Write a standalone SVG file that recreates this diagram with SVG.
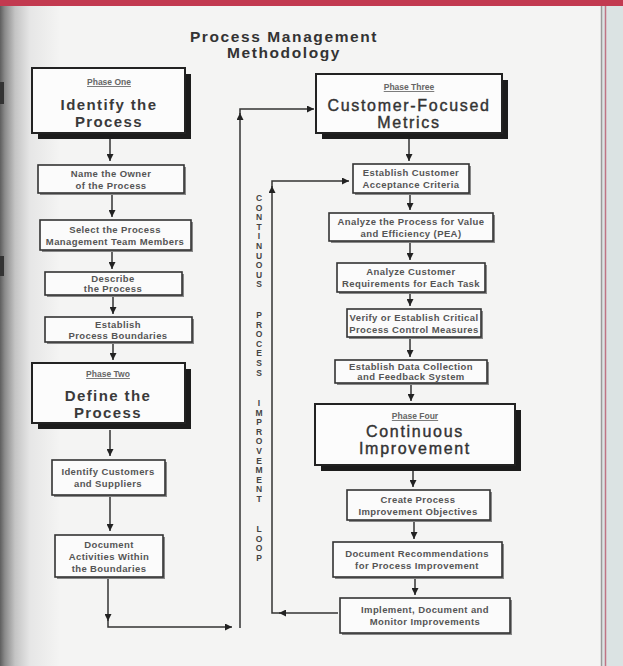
<svg xmlns="http://www.w3.org/2000/svg" width="623" height="666" viewBox="0 0 623 666">
<defs>
<linearGradient id="leftShade" gradientUnits="userSpaceOnUse" x1="0" y1="0" x2="60" y2="0">
<stop offset="0" stop-color="#5e5e5e"/>
<stop offset="0.08" stop-color="#8a8a8a"/>
<stop offset="0.25" stop-color="#c4c4c4"/>
<stop offset="0.5" stop-color="#e6e6e6"/>
<stop offset="1" stop-color="#f4f4f3"/>
</linearGradient>
<marker id="ah" viewBox="0 0 10 10" refX="10" refY="5" markerWidth="7" markerHeight="7" markerUnits="userSpaceOnUse" orient="auto">
<path d="M0,0 L10,5 L0,10 z" fill="#222"/>
</marker>
<style>
.t{font-family:"Liberation Sans",Arial,sans-serif;text-anchor:middle}
.title{font-size:15.5px;font-weight:bold;fill:#333;letter-spacing:1.6px}
.ph{font-size:8.5px;fill:#666;text-decoration:underline;font-weight:bold}
.big{font-size:15px;font-weight:bold;fill:#3a3a3a;letter-spacing:1.4px}
.big2{font-size:16px;fill:#333;letter-spacing:1.7px;stroke:#333;stroke-width:0.4}
.sm{font-size:9.5px;font-weight:bold;fill:#555;letter-spacing:0.4px}
.vt{font-size:8.5px;font-weight:bold;fill:#444}
.pbox{fill:#fcfcfc;stroke:#222;stroke-width:2}
.psh{fill:#1c1c1c}
.sbox{fill:#fbfbfb;stroke:#333;stroke-width:1.6}
.ssh{fill:#888}
.ca{fill:none;stroke:#333;stroke-width:1.5;marker-end:url(#ah)}
</style>
</defs>

<!-- page background -->
<rect x="0" y="0" width="623" height="666" fill="#f4f4f3"/>
<rect x="0" y="0" width="60" height="666" fill="url(#leftShade)"/>
<rect x="0" y="82" width="4" height="22" fill="#333"/>
<rect x="0" y="256" width="4" height="20" fill="#333"/>
<rect x="601" y="0" width="22" height="666" fill="#dbe3e3"/>
<line x1="601.5" y1="0" x2="601.5" y2="666" stroke="#9a9a9a" stroke-width="1.5"/>
<line x1="605.5" y1="0" x2="605.5" y2="666" stroke="#c07585" stroke-width="1.5"/>
<rect x="0" y="0" width="623" height="6" fill="#c23a50"/>

<!-- title -->
<g id="title">
<text class="t title" x="284" y="42">Process Management</text>
<text class="t title" x="284" y="58">Methodology</text>
</g>

<!-- connectors -->
<g id="connectors">
<path class="ca" d="M110,139 V161"/>
<path class="ca" d="M112,193 V217"/>
<path class="ca" d="M112,250 V269"/>
<path class="ca" d="M113,295 V314"/>
<path class="ca" d="M113,342 V360"/>
<path class="ca" d="M110,430 V456"/>
<path class="ca" d="M110,495 V531"/>
<path class="ca" d="M108,577 V621"/>
<path class="ca" d="M108,619 V627 H232"/>
<path class="ca" d="M240,628 V113"/>
<path class="ca" d="M240,115 V109 H314"/>
<path class="ca" d="M338,613 H279"/>
<path class="ca" d="M281,613 H272 V186"/>
<path class="ca" d="M272,188 V181 H349"/>
<path class="ca" d="M409,138 V161"/>
<path class="ca" d="M410,194 V210"/>
<path class="ca" d="M410,241 V260"/>
<path class="ca" d="M410,292 V306"/>
<path class="ca" d="M410,337 V357"/>
<path class="ca" d="M411,383 V401"/>
<path class="ca" d="M413,470 V487"/>
<path class="ca" d="M414,520 V539"/>
<path class="ca" d="M415,577 V595"/>
</g>

<!-- loop label -->
<g id="loop-label">
<text class="t vt" x="259 259 259 259 259 259 259 259 259 259" y="201 210.6 220.2 229.8 239.4 249 258.6 268.2 277.8 287.4">CONTINUOUS</text>
<text class="t vt" x="259 259 259 259 259 259 259" y="318 327.6 337.2 346.8 356.4 366 375.6">PROCESS</text>
<text class="t vt" x="259 259 259 259 259 259 259 259 259 259 259" y="406 415.6 425.2 434.8 444.4 454 463.6 473.2 482.8 492.4 502">IMPROVEMENT</text>
<text class="t vt" x="259 259 259 259" y="532 541.6 551.2 560.8">LOOP</text>
</g>

<!-- left column -->
<g id="phase-one">
<rect class="psh" x="38" y="74" width="153" height="65"/>
<rect class="pbox" x="32" y="68" width="153" height="65"/>
<text class="t ph" x="109" y="85">Phase One</text>
<text class="t big" x="109" y="110">Identify the</text>
<text class="t big" x="109" y="127">Process</text>
</g>
<g id="name-owner">
<rect class="ssh" x="40" y="167" width="146" height="28"/>
<rect class="sbox" x="38" y="165" width="146" height="28"/>
<text class="t sm" x="111" y="177">Name the Owner</text>
<text class="t sm" x="111" y="189">of the Process</text>
</g>
<g id="select-team">
<rect class="ssh" x="42" y="222" width="151" height="30"/>
<rect class="sbox" x="40" y="220" width="151" height="30"/>
<text class="t sm" x="115" y="233">Select the Process</text>
<text class="t sm" x="115" y="245">Management Team Members</text>
</g>
<g id="describe">
<rect class="ssh" x="47" y="274" width="137" height="23"/>
<rect class="sbox" x="45" y="272" width="137" height="23"/>
<text class="t sm" x="113" y="282">Describe</text>
<text class="t sm" x="113" y="292">the Process</text>
</g>
<g id="boundaries">
<rect class="ssh" x="47" y="319" width="147" height="25"/>
<rect class="sbox" x="45" y="317" width="147" height="25"/>
<text class="t sm" x="118" y="328">Establish</text>
<text class="t sm" x="118" y="339">Process Boundaries</text>
</g>
<g id="phase-two">
<rect class="psh" x="38" y="369" width="153" height="60"/>
<rect class="pbox" x="32" y="363" width="153" height="60"/>
<text class="t ph" x="108" y="377">Phase Two</text>
<text class="t big" x="108" y="401">Define the</text>
<text class="t big" x="108" y="418">Process</text>
</g>
<g id="customers">
<rect class="ssh" x="54" y="462" width="113" height="35"/>
<rect class="sbox" x="52" y="460" width="113" height="35"/>
<text class="t sm" x="108" y="475">Identify Customers</text>
<text class="t sm" x="108" y="487">and Suppliers</text>
</g>
<g id="document-activities">
<rect class="ssh" x="57" y="537" width="108" height="42"/>
<rect class="sbox" x="55" y="535" width="108" height="42"/>
<text class="t sm" x="109" y="548">Document</text>
<text class="t sm" x="109" y="560">Activities Within</text>
<text class="t sm" x="109" y="572">the Boundaries</text>
</g>

<!-- right column -->
<g id="phase-three">
<rect class="psh" x="322" y="80" width="186" height="59"/>
<rect class="pbox" x="316" y="74" width="186" height="59"/>
<text class="t ph" x="409" y="90">Phase Three</text>
<text class="t big2" x="409" y="111">Customer-Focused</text>
<text class="t big2" x="409" y="128">Metrics</text>
</g>
<g id="acceptance">
<rect class="ssh" x="355" y="166" width="116" height="29"/>
<rect class="sbox" x="353" y="164" width="116" height="29"/>
<text class="t sm" x="411" y="176">Establish Customer</text>
<text class="t sm" x="411" y="188">Acceptance Criteria</text>
</g>
<g id="analyze-value">
<rect class="ssh" x="331" y="215" width="164" height="28"/>
<rect class="sbox" x="329" y="213" width="164" height="28"/>
<text class="t sm" x="411" y="225">Analyze the Process for Value</text>
<text class="t sm" x="411" y="237">and Efficiency (PEA)</text>
</g>
<g id="analyze-requirements">
<rect class="ssh" x="339" y="265" width="148" height="29"/>
<rect class="sbox" x="337" y="263" width="148" height="29"/>
<text class="t sm" x="411" y="275">Analyze Customer</text>
<text class="t sm" x="411" y="287">Requirements for Each Task</text>
</g>
<g id="verify">
<rect class="ssh" x="349" y="311" width="134" height="28"/>
<rect class="sbox" x="347" y="309" width="134" height="28"/>
<text class="t sm" x="414" y="321">Verify or Establish Critical</text>
<text class="t sm" x="414" y="333">Process Control Measures</text>
</g>
<g id="data-collection">
<rect class="ssh" x="337" y="362" width="152" height="23"/>
<rect class="sbox" x="335" y="360" width="152" height="23"/>
<text class="t sm" x="411" y="370">Establish Data Collection</text>
<text class="t sm" x="411" y="380">and Feedback System</text>
</g>
<g id="phase-four">
<rect class="psh" x="321" y="410" width="200" height="61"/>
<rect class="pbox" x="315" y="404" width="200" height="61"/>
<text class="t ph" x="415" y="419">Phase Four</text>
<text class="t big2" x="415" y="437">Continuous</text>
<text class="t big2" x="415" y="454">Improvement</text>
</g>
<g id="objectives">
<rect class="ssh" x="349" y="492" width="143" height="30"/>
<rect class="sbox" x="347" y="490" width="143" height="30"/>
<text class="t sm" x="418" y="503">Create Process</text>
<text class="t sm" x="418" y="515">Improvement Objectives</text>
</g>
<g id="recommendations">
<rect class="ssh" x="335" y="544" width="169" height="35"/>
<rect class="sbox" x="333" y="542" width="169" height="35"/>
<text class="t sm" x="417" y="557">Document Recommendations</text>
<text class="t sm" x="417" y="569">for Process Improvement</text>
</g>
<g id="implement">
<rect class="ssh" x="342" y="600" width="170" height="35"/>
<rect class="sbox" x="340" y="598" width="170" height="35"/>
<text class="t sm" x="425" y="613">Implement, Document and</text>
<text class="t sm" x="425" y="625">Monitor Improvements</text>
</g>
</svg>
